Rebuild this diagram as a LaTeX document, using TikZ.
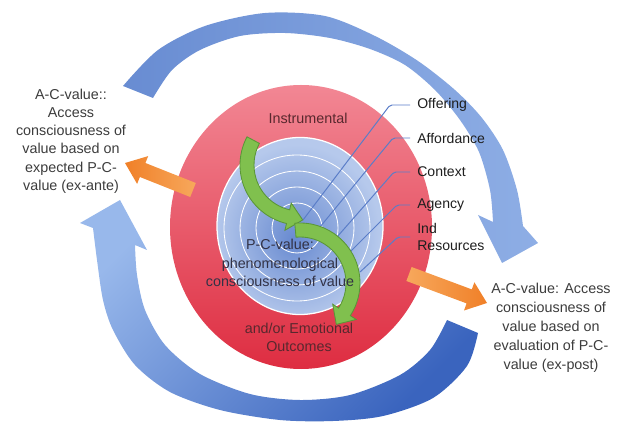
\documentclass[tikz,border=0pt]{standalone}
\usepackage{fontspec}
\setmainfont{Liberation Sans}
\usepackage{xcolor}
\definecolor{textgray}{RGB}{60,60,60}
\definecolor{labelblack}{RGB}{30,30,30}
\definecolor{maroontext}{RGB}{88,40,46}
\definecolor{pctext}{RGB}{50,50,70}
\definecolor{leaderblue}{RGB}{90,125,200}
\definecolor{redtop}{RGB}{242,135,148}
\definecolor{redbot}{RGB}{222,45,65}
\definecolor{discmid}{RGB}{104,138,208}
\definecolor{discrim}{RGB}{182,201,236}
\definecolor{greenfill}{RGB}{128,192,78}
\definecolor{greenline}{RGB}{90,150,55}
\definecolor{orangeD}{RGB}{240,128,40}
\definecolor{orangeL}{RGB}{247,168,92}
\definecolor{cycA}{RGB}{104,140,210}
\definecolor{cycB}{RGB}{142,174,229}
\definecolor{cycC}{RGB}{152,184,235}
\definecolor{cycD}{RGB}{58,100,190}
\pgfdeclareradialshading{discshade}{\pgfpoint{-2bp}{-4bp}}{color(0bp)=(discmid); color(25bp)=(discrim); color(50bp)=(discrim)}

\begin{document}
\begin{tikzpicture}[scale=0.25]
\tikzstyle{every node}+=[inner sep=0pt]
\tikzstyle{txt}=[font=\fontsize{10.2}{13}\selectfont, text=textgray, align=center]
\tikzstyle{lbl}=[font=\fontsize{10}{12}\selectfont, text=labelblack, anchor=west, align=left]
\tikzstyle{leader}=[draw=leaderblue, line width=0.7pt, rounded corners=0.5mm, shorten <=1.75mm]
\tikzstyle{ring}=[draw=white, line width=0.6pt]
\tikzstyle{greenarrow}=[fill=greenfill, draw=greenline, line width=0.6pt]
\useasboundingbox (0,0) rectangle (61.9,-42.3);
% outer cycle arrows
\shade [left color=cycA, right color=cycB] plot [smooth] coordinates {(12.3,-8.6) (15.8,-5.0) (20.5,-2.6) (26.5,-1.3) (32.5,-1.6) (37.5,-3.6) (41.8,-6.1) (45.5,-9.0) (48.2,-11.8) (50.3,-15.0) (51.7,-19.0) (52.3,-22.6)} -- (53.8,-24.3) -- (50.2,-26.3) -- (47.8,-21.5) -- plot [smooth] coordinates {(49.3,-22.2) (49.0,-19.0) (47.9,-15.2) (46.0,-12.0) (43.5,-9.0) (40.5,-6.5) (37.0,-4.9) (33.0,-3.8) (28.5,-3.3) (24.0,-3.6) (20.0,-5.0) (17.2,-7.0) (15.3,-9.8)} -- cycle;
\shade [top color=cycC, bottom color=cycD, shading angle=45] plot [smooth] coordinates {(44.7,-32.0) (43.0,-35.0) (40.0,-37.5) (35.0,-39.5) (30.0,-40.0) (25.0,-39.4) (20.0,-37.4) (16.5,-34.5) (14.5,-31.0) (13.7,-27.5) (13.5,-24.5)} -- (14.7,-25.0) -- (12.0,-20.0) -- (8.0,-22.3) -- plot [smooth] coordinates {(9.3,-22.8) (9.7,-26.0) (10.3,-30.0) (11.3,-33.0) (13.5,-36.5) (17.0,-39.2) (22.0,-41.0) (28.0,-42.0) (33.3,-42.1) (38.3,-41.6) (43.3,-39.8) (46.7,-36.6) (47.8,-33.3)} -- cycle;
% red ring and blue disc
\shade [top color=redtop, bottom color=redbot] (30.1,-22.7) ellipse (13.1 and 14.2);
\shade [shading=discshade] (30.0,-22.6) ellipse (8.3 and 8.85);
\draw [white, line width=0.9pt] (30.0,-22.6) ellipse (8.3 and 8.85);
\draw [ring] (29.7,-22.8) circle (2.5);
\draw [ring] (29.7,-22.8) circle (4.1);
\draw [ring] (29.7,-22.8) circle (5.7);
\draw [ring] (29.7,-22.8) circle (7.3);
% labels and leaders
\node [lbl] (off) at (41.7,-10.5) {Offering};
\node [lbl] (aff) at (41.7,-13.8) {Affordance};
\node [lbl] (con) at (41.7,-17.2) {Context};
\node [lbl] (agn) at (41.7,-20.5) {Agency};
\node [lbl] (ind) at (41.7,-23.7) {Ind\\Resources};
\coordinate (offE) at (30.3,-22.0);
\coordinate (affE) at (32.0,-22.7);
\coordinate (conE) at (33.7,-23.7);
\coordinate (agnE) at (35.0,-25.2);
\coordinate (indE) at (36.0,-27.2);
\draw [leader] (off.west) -- ++(-2.7,0) -- (offE);
\draw [leader] (aff.west) -- ++(-2.4,0) -- (affE);
\draw [leader] (con.west) -- ++(-2.3,0) -- (conE);
\draw [leader] (agn.west) -- ++(-2.0,0) -- (agnE);
\draw [leader] (ind.west) -- ++(-1.9,0) -- (indE);
% green S arrows
\coordinate (g1) at (30.0,-16.5);
\coordinate (g2) at (30.0,-28.3);
\filldraw [greenarrow] ([shift={(152:6.0)}]g1) arc [start angle=152, end angle=257, radius=6.0] -- ([shift={(257:6.7)}]g1) -- (30.27,-22.0) -- ([shift={(257:3.9)}]g1) -- ([shift={(257:4.6)}]g1) arc [start angle=257, end angle=152, radius=4.6] -- cycle;
\filldraw [greenarrow] ([shift={(95:6.0)}]g2) arc [start angle=95, end angle=-33, radius=6.0] -- ([shift={(-33:6.7)}]g2) -- (33.63,-32.44) -- ([shift={(-33:3.9)}]g2) -- ([shift={(-33:4.6)}]g2) arc [start angle=-33, end angle=95, radius=4.6] -- cycle;
% orange arrows
\shade [left color=orangeD, right color=orangeL] (19.58,-18.30) -- (14.54,-16.30) -- (14.82,-15.61) -- (12.5,-16.3) -- (13.71,-18.39) -- (13.99,-17.70) -- (19.02,-19.70) -- cycle;
\shade [left color=orangeL, right color=orangeD] (41.16,-26.70) -- (47.18,-28.94) -- (47.44,-28.23) -- (48.7,-30.3) -- (46.40,-31.05) -- (46.66,-30.34) -- (40.64,-28.10) -- cycle;
% texts
\node [txt] (lefttxt) at (7.1,-14.1) {A-C-value::\\Access\\consciousness of\\value based on\\expected P-C-\\value (ex-ante)};
\node [txt, font=\fontsize{10.2}{13.5}\selectfont] (righttxt) at (55.1,-32.8) {A-C-value: Access\\consciousness of\\value based on\\evaluation of P-C-\\value (ex-post)};
\node [txt, text=maroontext] (inst) at (30.8,-11.8) {Instrumental};
\node [txt, text=pctext] (pcv) at (28.0,-26.3) {P-C-value:\\phenomenological\\consciousness of value};
\node [txt, text=maroontext] (emo) at (29.9,-33.75) {and/or Emotional\\Outcomes};
\end{tikzpicture}
\end{document}
